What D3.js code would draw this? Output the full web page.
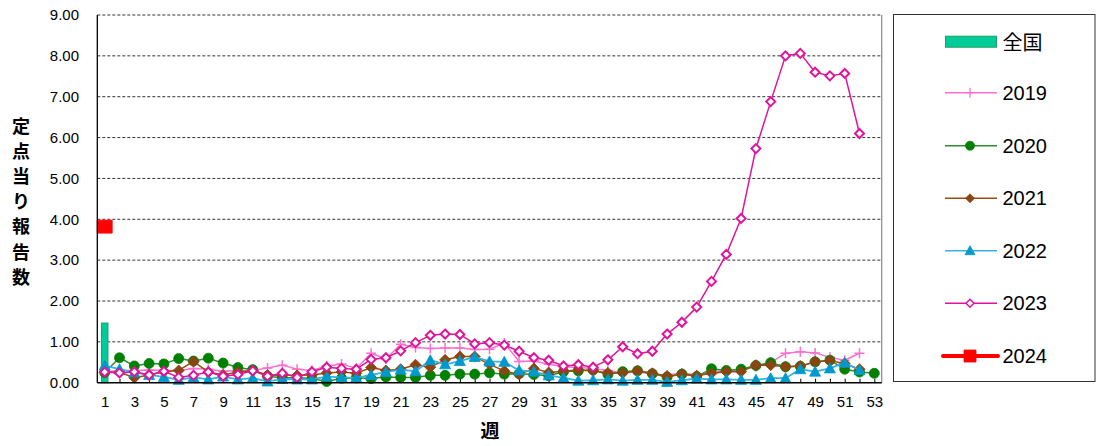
<!DOCTYPE html>
<html><head><meta charset="utf-8">
<script src="https://cdn.jsdelivr.net/npm/d3@7"></script>
<style>
html,body{margin:0;padding:0;background:#fff;}
svg{display:block;font-family:"Liberation Sans",Arial,sans-serif;}
</style></head>
<body>
<svg id="c" width="1096" height="446"></svg>
<script>
const weeks = d3.range(1, 54);
const yTicks = [0,1,2,3,4,5,6,7,8,9];
const xLabelWeeks = weeks.filter(w => w % 2 === 1);

const national = [1.46];               // 全国 (week 1)
const s2019 = [0.27,0.30,0.30,0.31,0.30,0.30,0.35,0.33,0.28,0.30,0.30,0.36,0.43,0.33,0.30,0.41,0.46,0.35,0.72,0.58,0.94,0.86,0.84,0.85,0.85,0.81,0.82,0.97,0.52,0.53,0.45,0.39,0.37,0.35,0.30,0.24,0.27,0.21,0.19,0.24,0.19,0.27,0.29,0.32,0.39,0.50,0.72,0.76,0.73,0.62,0.55,0.72];
const s2020 = [0.25,0.61,0.41,0.47,0.46,0.59,0.53,0.60,0.48,0.37,0.32,0.16,0.12,0.12,0.10,0.03,0.11,0.12,0.10,0.14,0.13,0.13,0.18,0.18,0.21,0.21,0.24,0.21,0.22,0.20,0.17,0.27,0.29,0.31,0.20,0.27,0.29,0.22,0.14,0.21,0.15,0.34,0.30,0.33,0.42,0.49,0.39,0.40,0.51,0.55,0.33,0.26,0.23];
const s2021 = [0.25,0.26,0.12,0.19,0.27,0.30,0.52,0.26,0.19,0.26,0.30,0.19,0.18,0.18,0.19,0.24,0.26,0.23,0.37,0.30,0.33,0.44,0.38,0.56,0.64,0.64,0.45,0.29,0.20,0.35,0.25,0.28,0.31,0.29,0.24,0.24,0.29,0.23,0.16,0.21,0.17,0.23,0.27,0.27,0.43,0.43,0.39,0.41,0.51,0.54,0.47,0.33];
const s2022 = [0.42,0.33,0.25,0.19,0.14,0.07,0.13,0.08,0.15,0.08,0.11,0.03,0.09,0.08,0.08,0.15,0.13,0.12,0.19,0.26,0.32,0.28,0.55,0.45,0.53,0.63,0.52,0.51,0.30,0.27,0.18,0.12,0.05,0.06,0.08,0.05,0.07,0.07,0.02,0.06,0.10,0.08,0.08,0.07,0.07,0.11,0.11,0.33,0.27,0.35,0.49,0.31];
const s2023 = [0.26,0.24,0.27,0.19,0.28,0.13,0.18,0.26,0.16,0.20,0.29,0.16,0.23,0.13,0.27,0.38,0.35,0.33,0.57,0.61,0.78,0.98,1.16,1.19,1.18,0.95,0.98,0.92,0.77,0.61,0.55,0.41,0.44,0.38,0.56,0.88,0.71,0.77,1.19,1.48,1.85,2.48,3.14,4.02,5.73,6.88,8.00,8.06,7.60,7.51,7.57,6.10];
const s2024 = [3.82];

const svg = d3.select("#c");
const X0 = 97.3, X1 = 881.7, Y0 = 15, Y1 = 382.7;
const x = d3.scalePoint().domain(weeks).range([X0, X1]).padding(0.5);
const band = x.step();
const y = d3.scaleLinear().domain([0, 9]).range([Y1, Y0]);

// gridlines
svg.append("g").selectAll("line").data(yTicks.filter(t => t > 0)).join("line")
  .attr("x1", X0).attr("x2", X1)
  .attr("y1", d => y(d)).attr("y2", d => y(d))
  .attr("stroke", "#333").attr("stroke-width", 1).attr("stroke-dasharray", "3,2");

// right border
svg.append("line").attr("x1", X1).attr("x2", X1).attr("y1", Y0).attr("y2", Y1)
  .attr("stroke", "#888").attr("stroke-width", 1.2);

// y axis
const yAxis = d3.axisLeft(y).tickValues(yTicks).tickSize(0).tickPadding(18.3).tickFormat(d3.format(".2f"));
const gy = svg.append("g").attr("transform", `translate(${X0},0)`).call(yAxis);
gy.select(".domain").remove();
gy.selectAll("text").attr("font-size", 15).attr("fill", "#000")
  .attr("font-family", "'Liberation Sans', Arial, sans-serif");

// x axis
const xAxis = d3.axisBottom(x).tickValues(weeks).tickSizeInner(-4).tickSizeOuter(0).tickPadding(13.6)
  .tickFormat(d => d % 2 === 1 ? String(d) : "");
const gx = svg.append("g").attr("transform", `translate(0,${Y1})`).call(xAxis);
gx.select(".domain").remove();
gx.selectAll(".tick line").attr("stroke", "#000");
gx.selectAll("text").attr("font-size", 15).attr("fill", "#000")
  .attr("font-family", "'Liberation Sans', Arial, sans-serif");

// 全国 bars
svg.append("g").selectAll("rect").data(national).join("rect")
  .attr("x", (d, i) => x(weeks[i]) - band * 0.22)
  .attr("width", band * 0.44)
  .attr("y", d => y(d)).attr("height", d => Y1 - y(d))
  .attr("fill", "#00CC99").attr("stroke", "#1DA060").attr("stroke-width", 1);

// series
const series = [
  {name: "2019", data: s2019, line: "#FF6FCF", lw: 1.5, marker: "plus", mfill: "none", mstroke: "#FF6FCF"},
  {name: "2020", data: s2020, line: "#2E8B2E", lw: 1.5, marker: "circle", mfill: "#008000", mstroke: "#008000"},
  {name: "2021", data: s2021, line: "#9C4A12", lw: 1.5, marker: "diamond", mfill: "#8B4513", mstroke: "#8B4513"},
  {name: "2022", data: s2022, line: "#36B2E2", lw: 1.8, marker: "triangle", mfill: "#0099CC", mstroke: "#0099CC"},
  {name: "2023", data: s2023, line: "#E0149C", lw: 1.5, marker: "odiamond", mfill: "#fff", mstroke: "#E0149C"},
  {name: "2024", data: s2024, line: "#FF0000", lw: 4, marker: "square", mfill: "#FF0000", mstroke: "#FF0000"}
];
const shapes = {
  plus: "M-5,0H5M0,-5V5",
  circle: "M5,0A5,5 0 1,1 -5,0A5,5 0 1,1 5,0Z",
  diamond: "M0,-5.5L5.5,0L0,5.5L-5.5,0Z",
  triangle: "M0,-5.5L5.5,4.5L-5.5,4.5Z",
  odiamond: "M0,-4.5L4.5,0L0,4.5L-4.5,0Z",
  square: "M-7.5,-6.5H7.5V6.5H-7.5Z"
};
const legendShapes = Object.assign({}, shapes, {square: "M-6,-6H6V6H-6Z", circle: "M4.5,0A4.5,4.5 0 1,1 -4.5,0A4.5,4.5 0 1,1 4.5,0Z",
  diamond: "M0,-4.5L4.5,0L0,4.5L-4.5,0Z", triangle: "M0,-5L5,4L-5,4Z", odiamond: "M0,-4L4,0L0,4L-4,0Z"});
const line = d3.line().x((d, i) => x(weeks[i])).y(d => y(d));

series.forEach(s => {
  const g = svg.append("g");
  if (s.data.length > 1) {
    g.append("path").attr("d", line(s.data)).attr("fill", "none")
      .attr("stroke", s.line).attr("stroke-width", s.lw).attr("stroke-linejoin", "round");
  }
  g.selectAll("path.m").data(s.data).join("path").attr("class", "m")
    .attr("transform", (d, i) => `translate(${x(weeks[i])},${y(d)})`)
    .attr("d", shapes[s.marker])
    .attr("fill", s.mfill).attr("stroke", s.mstroke)
    .attr("stroke-width", s.marker === "odiamond" ? 2 : (s.marker === "plus" ? 1.5 : 0.8));
});

// axis lines
svg.append("line").attr("x1", X0).attr("x2", X0).attr("y1", Y0).attr("y2", Y1).attr("stroke", "#000").attr("stroke-width", 1.3);
svg.append("line").attr("x1", X0).attr("x2", X1).attr("y1", Y1).attr("y2", Y1).attr("stroke", "#000").attr("stroke-width", 1.6);

// axis titles
const yTitle = "定点当り報告数".split("");
svg.append("g").selectAll("text").data(yTitle).join("text")
  .attr("x", 21).attr("y", (d, i) => 125 + i * 25.1)
  .attr("text-anchor", "middle").attr("dominant-baseline", "central")
  .attr("font-size", 18).attr("font-weight", "bold")
  .attr("font-family", "'Noto Sans CJK JP', sans-serif").attr("fill", "#000")
  .text(d => d);
svg.append("text").attr("x", 490).attr("y", 429).attr("text-anchor", "middle")
  .attr("dominant-baseline", "central").attr("font-size", 19).attr("font-weight", "bold")
  .attr("font-family", "'Noto Sans CJK JP', sans-serif").text("週");

// legend
svg.append("rect").attr("x", 893.5).attr("y", 14.5).attr("width", 201.5).attr("height", 367)
  .attr("fill", "#fff").attr("stroke", "#333").attr("stroke-width", 1);
const legY = [41.7, 92.7, 145.7, 198.3, 250.7, 303.3, 356];
const lg = svg.append("g");
lg.append("rect").attr("x", 945.5).attr("y", legY[0] - 5.5).attr("width", 51).attr("height", 11)
  .attr("fill", "#00CC99").attr("stroke", "#1DA060").attr("stroke-width", 1);
lg.append("text").attr("x", 1002.5).attr("y", legY[0]).attr("dominant-baseline", "central")
  .attr("font-size", 20).attr("font-family", "'Noto Sans CJK JP', sans-serif").text("全国");
series.forEach((s, i) => {
  const yy = legY[i + 1];
  lg.append("line").attr("x1", s.marker === "square" ? 943 : 945).attr("x2", s.marker === "square" ? 998 : 997)
    .attr("y1", yy).attr("y2", yy).attr("stroke", s.line).attr("stroke-width", s.marker === "square" ? 4 : 1.5)
    .attr("stroke-linecap", s.marker === "square" ? "round" : "butt");
  lg.append("path").attr("transform", `translate(970,${yy})`).attr("d", legendShapes[s.marker])
    .attr("fill", s.mfill).attr("stroke", s.mstroke)
    .attr("stroke-width", s.marker === "odiamond" ? 1.5 : (s.marker === "plus" ? 1.3 : 0.8));
  lg.append("text").attr("x", 1002.5).attr("y", yy).attr("dominant-baseline", "central")
    .attr("font-size", 20).attr("font-family", "'Liberation Sans', Arial, sans-serif").text(s.name);
});
</script>
</body></html>
